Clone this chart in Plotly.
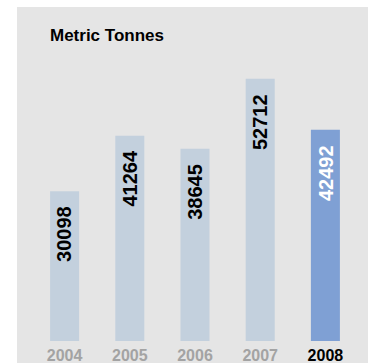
import plotly.graph_objects as go

# Annual tonnage
years = ["2004", "2005", "2006", "2007", "2008"]
tonnes = [30098, 41264, 38645, 52712, 42492]
highlight_year = "2008"

BAR_LIGHT = "#C3D0DD"
BAR_HIGHLIGHT = "#7FA0D4"
PANEL_GRAY = "#E5E5E5"
TICK_GRAY = "#A3A3A3"
FONT = "Liberation Sans, Arial, sans-serif"

W, H = 373, 363
ML, MR, MT, MB = 32, 15, 60, 22
plot_w = W - ML - MR
plot_h = H - MT - MB

bar_colors = [BAR_HIGHLIGHT if y == highlight_year else BAR_LIGHT for y in years]
label_colors = ["white" if y == highlight_year else "black" for y in years]
tick_text = [
    f"<b>{y}</b>" if y == highlight_year else f"<span style='color:{TICK_GRAY}'><b>{y}</b></span>"
    for y in years
]

fig = go.Figure(
    go.Bar(
        x=years,
        y=tonnes,
        marker=dict(color=bar_colors, line=dict(width=0)),
        hoverinfo="x+y",
    )
)

# Vertical value labels just below each bar top (x given as category index,
# since year strings would otherwise be read as numeric positions)
for idx, (val, col) in enumerate(zip(tonnes, label_colors)):
    fig.add_annotation(
        x=idx, y=val, text=f"<b>{val}</b>", showarrow=False,
        textangle=-90, xanchor="center", yanchor="top", yshift=-13,
        font=dict(family=FONT, size=20, color=col),
    )

# Gray panel behind the chart, extending past the plot area
def px_to_paper_x(px):
    return (px - ML) / plot_w

def px_to_paper_y(py):
    return (H - MB - py) / plot_h

fig.add_shape(
    type="rect", xref="paper", yref="paper",
    x0=px_to_paper_x(17), x1=px_to_paper_x(368),
    y0=px_to_paper_y(H + 5), y1=px_to_paper_y(7),
    fillcolor=PANEL_GRAY, line=dict(width=0), layer="below",
)

fig.update_layout(
    width=W, height=H,
    margin=dict(l=ML, r=MR, t=MT, b=MB, pad=0, autoexpand=False),
    paper_bgcolor="white",
    plot_bgcolor="rgba(0,0,0,0)",
    bargap=0.555,
    showlegend=False,
    title=dict(
        text="<b>Metric Tonnes</b>",
        x=50 / W, xanchor="left", xref="container",
        y=1 - 35 / H, yanchor="middle", yref="container",
        font=dict(family=FONT, size=17, color="black"),
    ),
    xaxis=dict(
        type="category",
        range=[-0.5, len(years) - 0.5],
        tickvals=years, ticktext=tick_text,
        tickfont=dict(family=FONT, size=16, color="black"),
        showgrid=False, zeroline=False, showline=False, ticks="",
        ticklabelstandoff=3, tickangle=0, automargin=False,
    ),
    yaxis=dict(
        range=[0, 56500], visible=False, showgrid=False, zeroline=False,
        automargin=False,
    ),
)

fig.write_html("out.html")
